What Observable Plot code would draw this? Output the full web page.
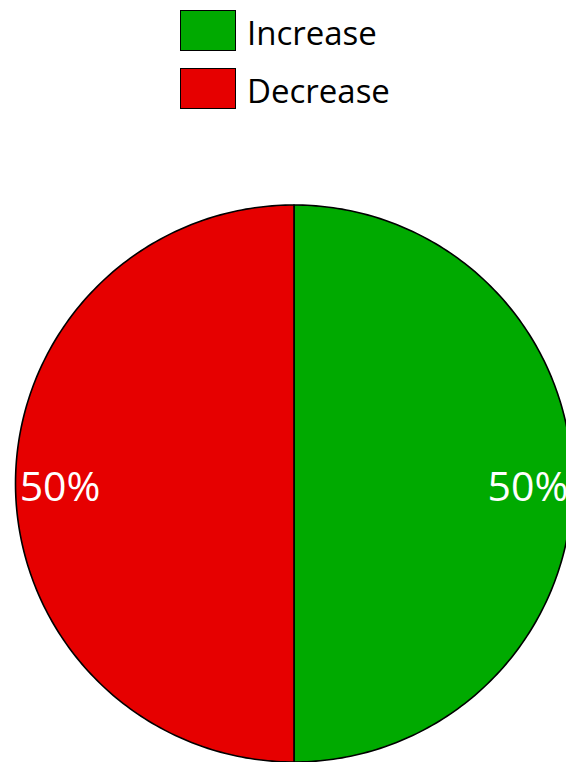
<!DOCTYPE html>
<html>
<head>
<meta charset="utf-8">
<script src="https://cdn.jsdelivr.net/npm/d3@7"></script>
<script src="https://cdn.jsdelivr.net/npm/@observablehq/plot@0.6"></script>
<style>
  html, body { margin: 0; padding: 0; background: #fff; }
  body { width: 566px; height: 762px; overflow: hidden; font-family: "Open Sans", sans-serif; }
  #legend { position: relative; height: 120px; }
  .item { position: absolute; left: 180px; display: flex; align-items: center; }
  .sw { width: 54px; height: 39px; border: 1.5px solid #000; box-sizing: content-box; }
  .lbl { margin-left: 11px; font-size: 33px; color: #000; line-height: 41px; position: relative; top: 2px; }
  #chart svg { display: block; }
</style>
</head>
<body>
<div id="legend"></div>
<div id="chart"></div>
<script>
const categories = ["Increase", "Decrease"];
const values = [50, 50];
const labels = ["50%", "50%"];
const colors = ["#00AA00", "#E60000"];

// legend
const legend = document.getElementById("legend");
categories.forEach((c, i) => {
  const item = document.createElement("div");
  item.className = "item";
  item.style.top = (10 + i * 58) + "px";
  const sw = document.createElement("div");
  sw.className = "sw";
  sw.style.background = colors[i];
  const t = document.createElement("span");
  t.className = "lbl";
  t.textContent = c;
  item.appendChild(sw); item.appendChild(t);
  legend.appendChild(item);
});

// pie geometry from data
const data = categories.map((c, i) => ({category: c, value: values[i], label: labels[i]}));
const arcs = d3.pie().sort(null).value(d => d.value)(data);
const pts = [];
arcs.forEach(a => {
  const k = a.data.category;
  pts.push({k, x: 0, y: 0});
  const n = 200;
  for (let j = 0; j <= n; j++) {
    const t = a.startAngle + (a.endAngle - a.startAngle) * j / n;
    pts.push({k, x: Math.sin(t), y: Math.cos(t)});
  }
  pts.push({k, x: 0, y: 0});
});
const labelPts = arcs.map(a => {
  const m = (a.startAngle + a.endAngle) / 2;
  return {label: a.data.label, x: Math.sin(m) * 0.84, y: Math.cos(m) * 0.84};
});

const cx = 293.5, cy = 363, r = 278.5;
const chart = Plot.plot({
  width: 566,
  height: 642,
  margin: 0,
  x: {domain: [-1, 1], range: [cx - r, cx + r], axis: null},
  y: {domain: [-1, 1], range: [cy + r, cy - r], axis: null},
  color: {domain: categories, range: colors},
  marks: [
    Plot.line(pts, {x: "x", y: "y", z: "k", fill: "k", stroke: "#000", strokeWidth: 1.6, curve: "linear"}),
    Plot.text(labelPts, {x: "x", y: "y", text: "label", fill: "#fff", fontSize: 41, fontFamily: "Open Sans", textAnchor: "middle", dy: 4})
  ]
});
document.getElementById("chart").appendChild(chart);
</script>
</body>
</html>
